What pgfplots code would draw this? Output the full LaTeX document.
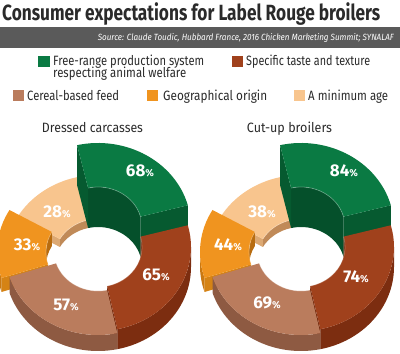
\documentclass[border=0pt]{standalone}
\usepackage{pgfplots}
\pgfplotsset{compat=1.18}
\usepackage{pgfplotstable}
\usepackage{graphicx}
\usepackage{fontspec}
\setmainfont{Fira Sans}

\definecolor{gT}{HTML}{0A7A43}\definecolor{gW}{HTML}{075E33}\definecolor{gI}{HTML}{05502B}\definecolor{gS}{HTML}{065A30}
\definecolor{tT}{HTML}{A0411C}\definecolor{tW}{HTML}{7C2D10}\definecolor{tI}{HTML}{6E270D}\definecolor{tS}{HTML}{72290E}
\definecolor{cT}{HTML}{BA7C5D}\definecolor{cW}{HTML}{8E5A42}\definecolor{cI}{HTML}{7E4E38}\definecolor{cS}{HTML}{94603F}
\definecolor{oT}{HTML}{F0941F}\definecolor{oW}{HTML}{C97812}\definecolor{oI}{HTML}{B86C10}\definecolor{oS}{HTML}{D58315}
\definecolor{aT}{HTML}{F8C58E}\definecolor{aW}{HTML}{D49E69}\definecolor{aI}{HTML}{C08A58}\definecolor{aS}{HTML}{DDA973}
\definecolor{barGrey}{HTML}{5A5A5A}
\definecolor{txt}{HTML}{2A2A2A}

\def\Rxo{93}\def\Ryo{84}\def\Rxi{44}\def\Ryi{40}

% cx cy : centre; v : value (%); a1 a2 : sector angles; h : height of the block
% dx dy : explode offset; oa ob : front outer wall; ia ib : back inner wall
% ca cb : visible cut faces; lx ly : label offset; k : category (0 age,1 free-range,2 origin,3 taste,4 cereal)
\pgfplotstableread{
cx cy v a1 a2 h dx dy oa ob ia ib ca cb lx ly k
98 87 28 150 103 8 0 0 0 0 103 150 1 0 -41 55 0
98 87 68 103 15 40 0 0 0 0 15 103 1 1 42 96 1
98 87 33 -162 -210 14 -8 1 -180 -162 -210 -180 1 0 -63 21 2
98 87 65 15 -78 20 0 0 -78 0 0 15 0 1 58 -8 3
98 87 57 -78 -162 16 0 0 -162 -78 0 0 0 0 -32 -38 4
}\tabL
\pgfplotstableread{
cx cy v a1 a2 h dx dy oa ob ia ib ca cb lx ly k
301 87 38 150 103 8 0 0 0 0 103 150 1 0 -39 55 0
301 87 84 103 15 40 0 0 0 0 15 103 1 1 43 96 1
301 87 44 -162 -210 14 -8 1 -180 -162 -210 -180 1 0 -65 21 2
301 87 74 15 -78 20 0 0 -78 0 0 15 0 1 55 -10 3
301 87 69 -78 -162 16 0 0 -162 -78 0 0 0 0 -34 -36 4
}\tabR

\def\getvaux#1#2#3{\pgfplotstablegetelem{\segrow}{#2}\of#1\let#3\pgfplotsretval}
\newcommand\getv[2]{\expandafter\getvaux\segtab{#1}#2}
\newcommand\segcolors{%
  \ifcase\sgK
    \colorlet{segT}{aT}\colorlet{segW}{aW}\colorlet{segI}{aI}\colorlet{segS}{aS}%
  \or\colorlet{segT}{gT}\colorlet{segW}{gW}\colorlet{segI}{gI}\colorlet{segS}{gS}%
  \or\colorlet{segT}{oT}\colorlet{segW}{oW}\colorlet{segI}{oI}\colorlet{segS}{oS}%
  \or\colorlet{segT}{tT}\colorlet{segW}{tW}\colorlet{segI}{tI}\colorlet{segS}{tS}%
  \else\colorlet{segT}{cT}\colorlet{segW}{cW}\colorlet{segI}{cI}\colorlet{segS}{cS}%
  \fi}
\newcommand\drawseg[2]{%
  \def\segtab{#1}\def\segrow{#2}%
  \getv{cx}\sgX\getv{cy}\sgY\getv{v}\sgV\getv{a1}\sgA\getv{a2}\sgB\getv{h}\sgH
  \getv{dx}\sgDX\getv{dy}\sgDY\getv{oa}\sgOa\getv{ob}\sgOb\getv{ia}\sgIa\getv{ib}\sgIb
  \getv{ca}\sgCa\getv{cb}\sgCb\getv{lx}\sgLx\getv{ly}\sgLy\getv{k}\sgK
  \segcolors
  \begin{scope}[shift={(axis cs:\sgX,\sgY)}]
  \begin{scope}[shift={(\sgDX pt,\sgDY pt)}]
    \ifnum\sgIa=\sgIb\relax\else
      \fill[segI] (\sgIa:\Rxi pt and \Ryi pt) arc[start angle=\sgIa,end angle=\sgIb,x radius=\Rxi pt,y radius=\Ryi pt]
        -- ++(0pt,\sgH pt) arc[start angle=\sgIb,end angle=\sgIa,x radius=\Rxi pt,y radius=\Ryi pt] -- cycle;
    \fi
    \ifnum\sgOa=\sgOb\relax\else
      \fill[segW] (\sgOa:\Rxo pt and \Ryo pt) arc[start angle=\sgOa,end angle=\sgOb,x radius=\Rxo pt,y radius=\Ryo pt]
        -- ++(0pt,\sgH pt) arc[start angle=\sgOb,end angle=\sgOa,x radius=\Rxo pt,y radius=\Ryo pt] -- cycle;
    \fi
    \ifnum\sgCa=1\relax
      \fill[segS] (\sgA:\Rxi pt and \Ryi pt) -- (\sgA:\Rxo pt and \Ryo pt) -- ++(0pt,\sgH pt)
        -- ([yshift=\sgH pt]\sgA:\Rxi pt and \Ryi pt) -- cycle;
    \fi
    \ifnum\sgCb=1\relax
      \fill[segS] (\sgB:\Rxi pt and \Ryi pt) -- (\sgB:\Rxo pt and \Ryo pt) -- ++(0pt,\sgH pt)
        -- ([yshift=\sgH pt]\sgB:\Rxi pt and \Ryi pt) -- cycle;
    \fi
    \fill[segT] ([yshift=\sgH pt]\sgA:\Rxo pt and \Ryo pt) arc[start angle=\sgA,end angle=\sgB,x radius=\Rxo pt,y radius=\Ryo pt]
      -- ([yshift=\sgH pt]\sgB:\Rxi pt and \Ryi pt) arc[start angle=\sgB,end angle=\sgA,x radius=\Rxi pt,y radius=\Ryi pt] -- cycle;
    \draw[white,opacity=0.25,line width=0.8pt] ([yshift=\sgH pt]\sgB:\Rxi pt and \Ryi pt) arc[start angle=\sgB,end angle=\sgA,x radius=\Rxi pt,y radius=\Ryi pt];
    \node[text=white,inner sep=0pt,font=\bfseries\fontsize{17}{17}\selectfont] at (\sgLx pt,\sgLy pt) {\sgV{\fontsize{10}{10}\selectfont\%}};
  \end{scope}
  \end{scope}}

\begin{document}
\begin{tikzpicture}
\useasboundingbox (0,0) rectangle (400pt,354pt);
\begin{axis}[width=400pt, height=354pt, scale only axis, at={(0pt,0pt)}, anchor=south west,
  xmin=0, xmax=400, ymin=0, ymax=354, hide axis, clip=false]
  \addplot[draw=none, mark=none, forget plot] table[x=cx, y=cy] {\tabL};
  \pgfplotsextra{%
    \drawseg\tabL{0}\drawseg\tabL{1}\drawseg\tabL{2}\drawseg\tabL{3}\drawseg\tabL{4}%
    \drawseg\tabR{0}\drawseg\tabR{1}\drawseg\tabR{2}\drawseg\tabR{3}\drawseg\tabR{4}}
\end{axis}
% header
\fill[barGrey] (0pt,306pt) rectangle (400pt,327pt);
\node[anchor=base west, inner sep=0pt, text=txt] at (2pt,333pt)
  {\resizebox{378pt}{\height}{\bfseries\fontsize{22}{22}\selectfont Consumer expectations for Label Rouge broilers}};
\node[anchor=base east, inner sep=0pt, text=white] at (394pt,313pt)
  {\resizebox{296pt}{\height}{\itshape\fontsize{9}{9}\selectfont Source: Claude Toudic, Hubbard France, 2016 Chicken Marketing Summit; SYNALAF}};
% legend
\fill[gT] (38pt,287pt) rectangle (50pt,298pt);
\node[anchor=base west, inner sep=0pt, text=txt] at (53pt,288pt)
  {\resizebox{151pt}{\height}{\fontsize{13.5}{13.5}\selectfont Free-range production system}};
\node[anchor=base west, inner sep=0pt, text=txt] at (53pt,276pt)
  {\resizebox{133pt}{\height}{\fontsize{13.5}{13.5}\selectfont respecting animal welfare}};
\fill[tT] (232pt,287pt) rectangle (243pt,298pt);
\node[anchor=base west, inner sep=0pt, text=txt] at (246pt,288pt)
  {\resizebox{124pt}{\height}{\fontsize{13.5}{13.5}\selectfont Specific taste and texture}};
\fill[cT] (13pt,253pt) rectangle (24pt,264pt);
\node[anchor=base west, inner sep=0pt, text=txt] at (27pt,253pt)
  {\resizebox{92pt}{\height}{\fontsize{13.5}{13.5}\selectfont Cereal-based feed}};
\fill[oT] (147pt,253pt) rectangle (158pt,264pt);
\node[anchor=base west, inner sep=0pt, text=txt] at (163pt,253pt)
  {\resizebox{104pt}{\height}{\fontsize{13.5}{13.5}\selectfont Geographical origin}};
\fill[aT] (294pt,253pt) rectangle (305pt,264pt);
\node[anchor=base west, inner sep=0pt, text=txt] at (308pt,253pt)
  {\resizebox{80pt}{\height}{\fontsize{13.5}{13.5}\selectfont A minimum age}};
% chart titles
\node[anchor=base, inner sep=0pt, text=txt] at (92.5pt,221pt)
  {\resizebox{101pt}{\height}{\fontsize{13.5}{13.5}\selectfont Dressed carcasses}};
\node[anchor=base, inner sep=0pt, text=txt] at (289.5pt,221pt)
  {\resizebox{85pt}{\height}{\fontsize{13.5}{13.5}\selectfont Cut-up broilers}};
\end{tikzpicture}
\end{document}
